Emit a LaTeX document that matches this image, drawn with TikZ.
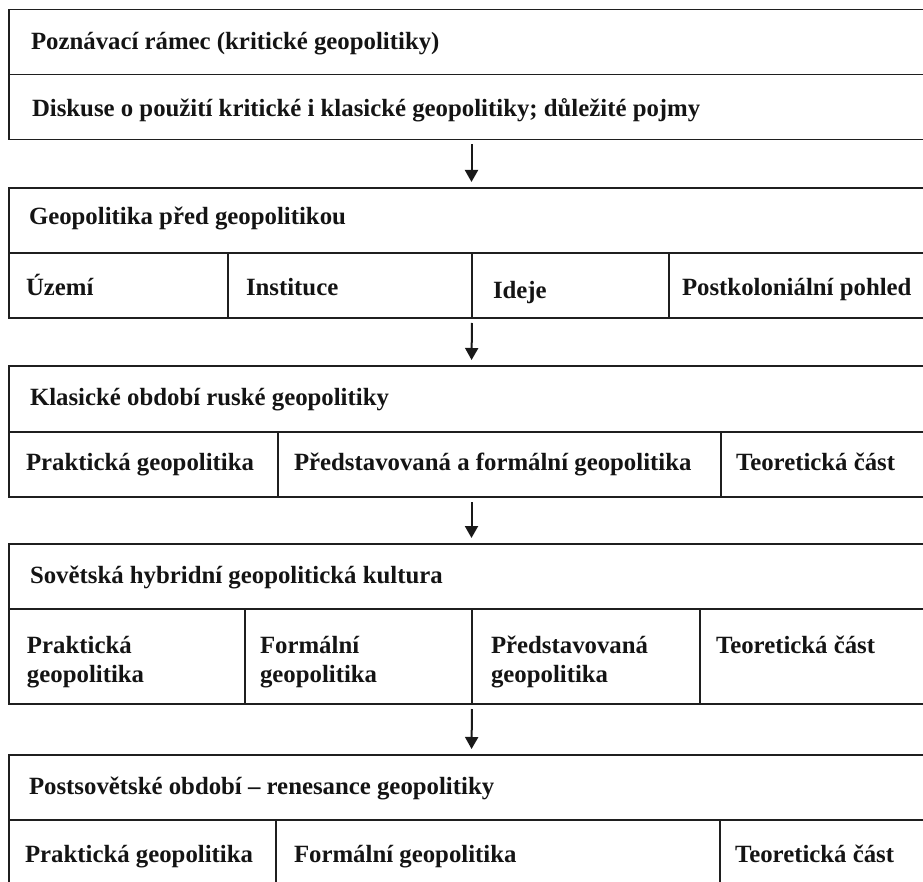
\documentclass[tikz,border=0pt]{standalone}
\usepackage{fontspec}
\setmainfont{Liberation Serif}
\usetikzlibrary{arrows.meta}
\begin{document}
\begin{tikzpicture}[x=1pt,y=-1pt,
  cell/.style={draw=black!88, line width=1.3pt, rectangle, inner sep=0pt, outer sep=0pt, anchor=north west},
  lbl/.style={anchor=base west, inner sep=0pt, outer sep=0pt, font=\fontsize{24.8}{29}\selectfont\bfseries, text=black!92, align=left},
  flow/.style={-{Triangle[width=13pt,length=12pt]}, line width=2pt, black!90, shorten <=5pt, shorten >=6pt}]
\clip (0,0) rectangle (923,882);
% box 1
\node[cell, minimum width=925, minimum height=65] (b1a) at (9,9.5) {};
\node[cell, minimum width=925, minimum height=65] (b1b) at (9,74.5) {};
\node[lbl] (t1a) at (31,50) {Poznávací rámec (kritické geopolitiky)};
\node[lbl] (t1b) at (32,117) {Diskuse o použití kritické i klasické geopolitiky; důležité pojmy};
% box 2
\node[cell, minimum width=925, minimum height=65] (b2t) at (9,188) {};
\node[cell, minimum width=219, minimum height=65] (b2c1) at (9,253) {};
\node[cell, minimum width=244, minimum height=65] (b2c2) at (228,253) {};
\node[cell, minimum width=197, minimum height=65] (b2c3) at (472,253) {};
\node[cell, minimum width=265, minimum height=65] (b2c4) at (669,253) {};
\node[lbl] (t2) at (29,225) {Geopolitika před geopolitikou};
\node[lbl] (t2a) at (26,296) {Území};
\node[lbl] (t2b) at (246,296) {Instituce};
\node[lbl] (t2c) at (493,298.5) {Ideje};
\node[lbl] (t2d) at (682,296) {Postkoloniální pohled};
% box 3
\node[cell, minimum width=925, minimum height=66] (b3t) at (9,366) {};
\node[cell, minimum width=269, minimum height=65] (b3c1) at (9,432) {};
\node[cell, minimum width=443, minimum height=65] (b3c2) at (278,432) {};
\node[cell, minimum width=213, minimum height=65] (b3c3) at (721,432) {};
\node[lbl] (t3) at (30,405) {Klasické období ruské geopolitiky};
\node[lbl] (t3a) at (26,470) {Praktická geopolitika};
\node[lbl] (t3b) at (294,470) {Představovaná a formální geopolitika};
\node[lbl] (t3c) at (736,470) {Teoretická část};
% box 4
\node[cell, minimum width=925, minimum height=65] (b4t) at (9,544) {};
\node[cell, minimum width=236, minimum height=95] (b4c1) at (9,609) {};
\node[cell, minimum width=227, minimum height=95] (b4c2) at (245,609) {};
\node[cell, minimum width=228, minimum height=95] (b4c3) at (472,609) {};
\node[cell, minimum width=234, minimum height=95] (b4c4) at (700,609) {};
\node[lbl] (t4) at (30,583) {Sovětská hybridní geopolitická kultura};
\node[lbl] (t4a) at (27,682) {Praktická\\geopolitika};
\node[lbl] (t4b) at (260,682) {Formální\\geopolitika};
\node[lbl] (t4c) at (491,682) {Představovaná\\geopolitika};
\node[lbl] (t4d) at (716,653) {Teoretická část};
% box 5
\node[cell, minimum width=925, minimum height=65] (b5t) at (9,755) {};
\node[cell, minimum width=267, minimum height=80] (b5c1) at (9,820) {};
\node[cell, minimum width=444, minimum height=80] (b5c2) at (276,820) {};
\node[cell, minimum width=214, minimum height=80] (b5c3) at (720,820) {};
\node[lbl] (t5) at (29,794) {Postsovětské období – renesance geopolitiky};
\node[lbl] (t5a) at (25,862) {Praktická geopolitika};
\node[lbl] (t5b) at (294,862) {Formální geopolitika};
\node[lbl] (t5c) at (735,862) {Teoretická část};
% arrows
\draw[flow] (b1b.south) -- (b2t.north);
\draw[flow] (b2c3.south west) -- (b3t.north);
\draw[flow] (b3c2.south -| b3t.south) -- (b4t.north);
\draw[flow] (b4c3.south west) -- (b5t.north);
\end{tikzpicture}
\end{document}
